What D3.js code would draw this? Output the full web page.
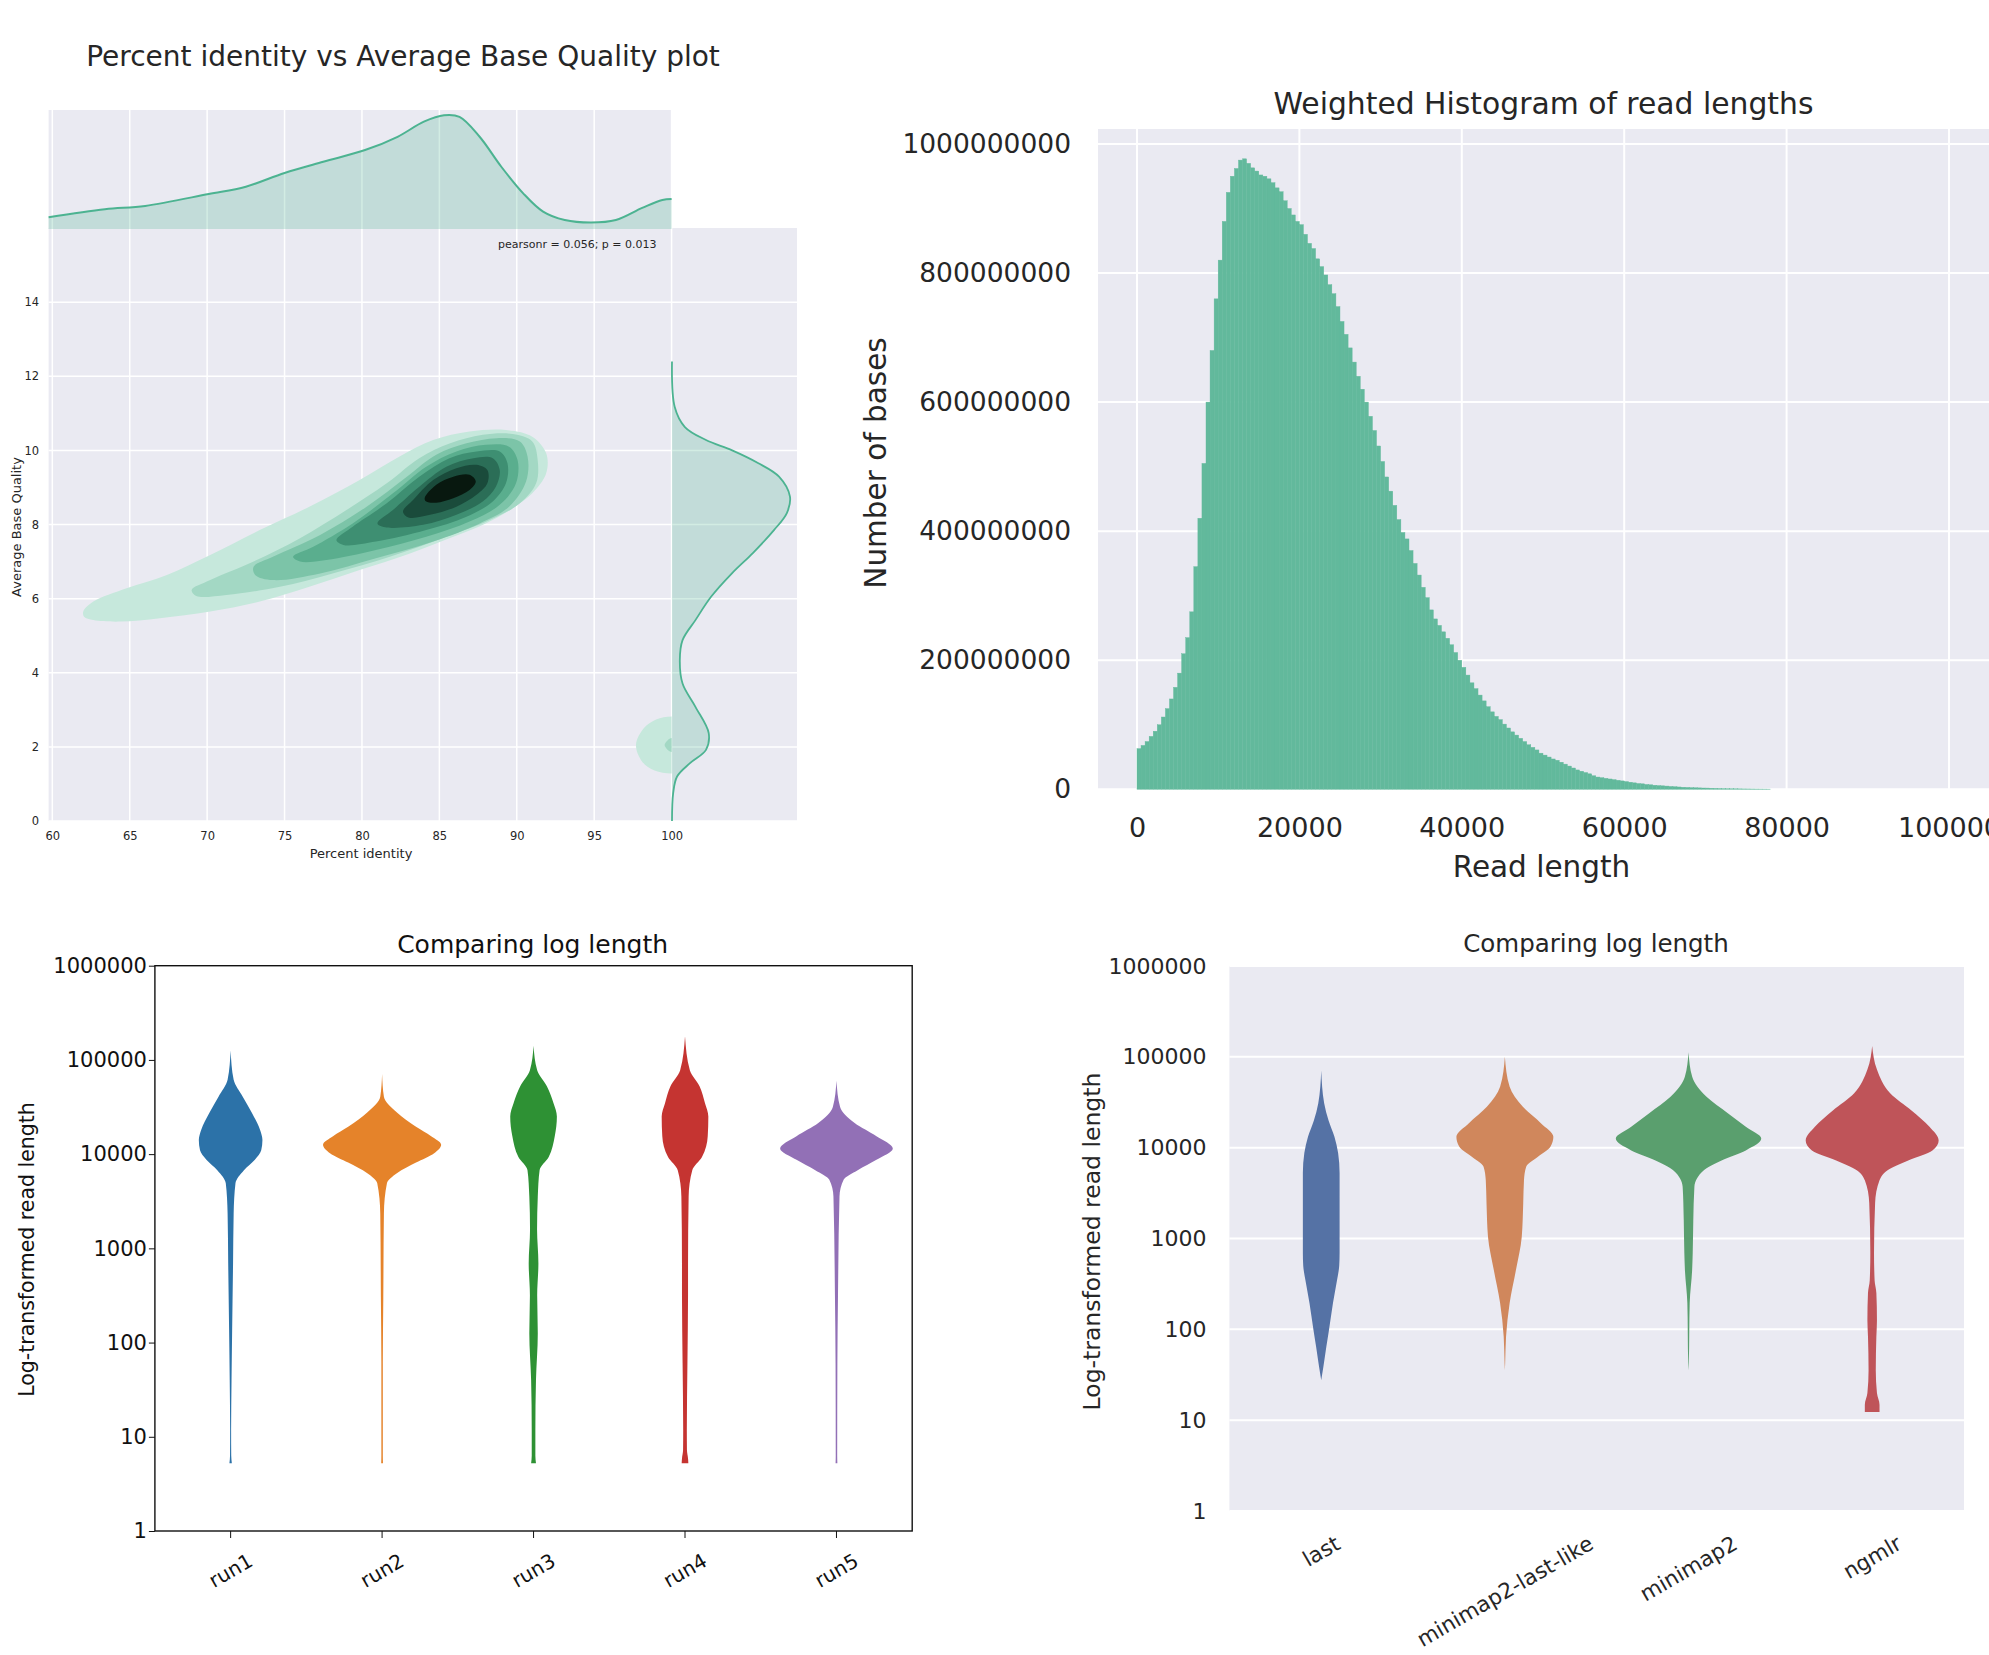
<!DOCTYPE html>
<html>
<head>
<meta charset="utf-8">
<script src="https://cdn.jsdelivr.net/npm/d3@7"></script>
<style>
  body { margin: 0; background: #fff; }
  svg { display: block; font-family: "DejaVu Sans", sans-serif; }
</style>
</head>
<body>
<svg id="chart" width="1989" height="1655"></svg>
<script>
// ---------------- data ----------------
// panel 1: percent identity vs average base quality
var identTicks = [60, 65, 70, 75, 80, 85, 90, 95, 100];
var qualTicks = [0, 2, 4, 6, 8, 10, 12, 14];
var topKdeX = [59.76, 63.4, 66.0, 70.1, 72.5, 75.0, 77.5, 80.2, 82.3, 84.0, 85.3, 86.3, 87.6, 89.0, 90.4, 91.7, 93.1, 94.8, 96.4, 98.1, 99.4, 100.0];
var topKdeD = [0.0051, 0.0086, 0.0101, 0.0153, 0.0185, 0.0245, 0.0294, 0.0345, 0.0403, 0.0469, 0.0497, 0.0490, 0.0403, 0.0272, 0.0157, 0.0076, 0.0039, 0.0028, 0.0039, 0.0092, 0.0127, 0.0131];
var rightKdeQ = [0, 0.75, 1.2, 1.56, 1.92, 2.37, 3.08, 3.71, 4.34, 4.88, 5.42, 6.05, 6.69, 7.23, 7.85, 8.31, 8.75, 9.29, 9.66, 10.0, 10.28, 10.63, 11.17, 12.4];
var rightKdeD = [0, 0.003, 0.013, 0.046, 0.087, 0.094, 0.060, 0.027, 0.020, 0.027, 0.060, 0.100, 0.154, 0.207, 0.261, 0.294, 0.302, 0.274, 0.220, 0.154, 0.087, 0.033, 0.007, 0];

// 2d kde contour outlines (percent identity, base quality), light to dark
var contour1 = [[62.0,5.65],[62.65,5.92],[64.8,6.28],[67.4,6.64],[70.2,7.18],[73.4,7.85],[76.6,8.48],[79.85,9.2],[82.4,9.83],[84.6,10.28],[86.95,10.51],[89.3,10.55],[91.0,10.37],[91.9,9.92],[91.9,9.38],[91.0,8.84],[89.75,8.44],[88.0,8.03],[85.9,7.67],[83.1,7.22],[79.85,6.77],[76.6,6.32],[73.4,5.92],[70.2,5.65],[66.95,5.47],[64.4,5.38],[62.65,5.42],[62.05,5.51]];
var contour2 = [[69.0,6.23],[70.2,6.5],[73.0,7.0],[76.0,7.63],[79.0,8.39],[81.6,9.11],[83.7,9.79],[85.7,10.19],[87.8,10.42],[89.75,10.44],[91.0,10.24],[91.35,9.74],[91.25,9.11],[90.2,8.57],[88.25,8.12],[85.2,7.63],[81.8,7.13],[78.1,6.68],[74.7,6.32],[71.25,6.1],[69.3,6.07]];
var contour3 = [[73.0,6.86],[74.25,7.13],[77.3,7.72],[80.3,8.48],[82.9,9.29],[84.8,9.88],[86.75,10.19],[88.7,10.33],[90.2,10.24],[90.7,9.83],[90.6,9.16],[89.5,8.48],[87.6,8.03],[84.6,7.54],[80.9,7.09],[77.3,6.68],[74.25,6.5],[73.1,6.64]];
var contour4 = [[75.55,7.13],[76.85,7.4],[79.4,8.03],[82.0,8.84],[84.15,9.56],[86.1,9.97],[88.0,10.15],[89.5,10.1],[90.05,9.74],[89.95,9.11],[88.9,8.53],[86.95,8.08],[84.15,7.67],[80.9,7.31],[77.7,7.04],[76.0,7.0]];
var contour5 = [[78.35,7.58],[79.4,7.94],[81.6,8.57],[83.7,9.29],[85.65,9.79],[87.4,9.97],[88.9,9.97],[89.4,9.65],[89.3,9.11],[88.45,8.62],[86.75,8.21],[84.15,7.85],[80.9,7.54],[78.8,7.45]];
var contour6 = [[81.0,8.03],[82.0,8.39],[83.7,9.02],[85.45,9.56],[87.2,9.79],[88.45,9.79],[88.9,9.47],[88.65,9.02],[87.8,8.62],[86.1,8.26],[83.95,7.99],[81.6,7.92]];
var contour7 = [[82.65,8.35],[83.3,8.66],[84.6,9.2],[86.1,9.52],[87.4,9.61],[88.1,9.47],[88.1,9.11],[87.4,8.8],[86.1,8.48],[84.4,8.26],[83.0,8.19]];
var contour8 = [[84.05,8.71],[84.8,9.07],[85.9,9.29],[86.95,9.34],[87.35,9.16],[86.95,8.93],[85.9,8.71],[84.8,8.59],[84.15,8.62]];
var blobOuter = [[100,2.82],[99.0,2.74],[98.2,2.5],[97.7,2.05],[98.1,1.6],[98.9,1.36],[100,1.28],[101,1.36],[101.8,1.6],[102.3,2.05],[101.8,2.5],[101,2.74]];
var blobInner = [[100,2.24],[99.55,2.05],[100,1.86],[100.45,2.05]];
var contourColors = ["#c6e8dc", "#a3d8c4", "#7cc4a8", "#5aae8e", "#3e8f72", "#2b6e57", "#1a4b3b", "#08180f"];

// panel 2: weighted histogram, bins of 500 starting at 0, values in millions of bases
var histBinWidth = 500;
var histBasesMillions = [
  63,68,74,82,90,100,112,125,140,158,
  180,210,235,275,345,420,505,600,680,760,
  820,880,925,950,962,975,977,970,963,958,
  952,950,946,940,932,926,912,900,890,880,
  875,860,846,838,822,810,797,782,768,748,
  725,705,684,662,640,620,600,578,556,532,
  508,484,462,440,418,398,388,370,350,332,
  313,297,278,264,254,244,234,224,212,200,
  189,177,165,156,146,137,128,120,113,108,
  101,95,89,84,79,74,69,65,61,56,
  53,50,47,45,42,39,36,33,30,28,
  26,24,21,19,18,17,16,15,14,13,
  12,11,10,9,8.5,7.5,7,6.3,5.8,5.4,
  5,4.4,4,3.6,3.2,2.9,2.6,2.4,2.2,2,
  1.9,1.7,1.5,1.3,1.1,1,0.9,0.8,0.7,0.6,
  0.55,0.5,0.45,0.4,0.35,0.3
];
var histXTicks = [0, 20000, 40000, 60000, 80000, 100000];
var histYTicks = [0, 200, 400, 600, 800, 1000];

// panels 3 and 4: violins, [log10(read length), relative half width]
var logTicks = [1, 10, 100, 1000, 10000, 100000, 1000000];
var runNames = ["run1", "run2", "run3", "run4", "run5"];
var runColors = ["#2c72a8", "#e5832a", "#2e9134", "#c53431", "#9270b6"];
var run1 = [[0.72,0.02],[0.8,0.01],[1.07,0.008],[1.6,0.015],[2.13,0.025],[2.84,0.04],[3.37,0.05],[3.69,0.08],[3.83,0.22],[3.94,0.40],[4.04,0.505],[4.15,0.525],[4.26,0.485],[4.44,0.35],[4.61,0.20],[4.79,0.05],[5.1,0]];
var run2 = [[0.72,0.015],[0.8,0.012],[1.78,0.012],[2.48,0.02],[3.37,0.03],[3.69,0.08],[3.80,0.25],[3.91,0.56],[4.01,0.86],[4.10,0.975],[4.19,0.81],[4.29,0.56],[4.44,0.25],[4.61,0.03],[4.85,0]];
var run3 = [[0.72,0.04],[0.8,0.03],[1.07,0.03],[1.6,0.04],[2.1,0.07],[2.5,0.06],[2.84,0.08],[3.2,0.058],[3.55,0.07],[3.83,0.10],[3.97,0.25],[4.19,0.35],[4.40,0.385],[4.54,0.33],[4.72,0.22],[4.89,0.06],[5.15,0]];
var run4 = [[0.72,0.055],[0.77,0.05],[0.86,0.032],[1.07,0.03],[1.78,0.04],[2.5,0.05],[2.84,0.05],[3.55,0.06],[3.83,0.12],[3.97,0.28],[4.19,0.375],[4.40,0.385],[4.54,0.33],[4.72,0.24],[4.89,0.08],[5.25,0]];
var run5 = [[0.72,0.015],[0.8,0.012],[1.78,0.015],[2.49,0.025],[3.55,0.05],[3.73,0.12],[3.83,0.35],[3.94,0.66],[4.06,0.93],[4.19,0.66],[4.33,0.30],[4.50,0.06],[4.78,0]];
var alignerNames = ["last", "minimap2-last-like", "minimap2", "ngmlr"];
var alignerColors = ["#5572a5", "#d0875c", "#5a9f6e", "#bf5459"];
var alnLast = [[1.44,0],[1.59,0.03],[1.81,0.07],[1.99,0.105],[2.29,0.16],[2.54,0.215],[2.7,0.245],[2.84,0.25],[3.20,0.25],[3.72,0.25],[3.94,0.23],[4.12,0.18],[4.30,0.10],[4.49,0.04],[4.85,0]];
var alnMm2LastLike = [[1.55,0],[1.63,0.004],[1.92,0.016],[2.29,0.065],[2.65,0.15],[3.02,0.23],[3.39,0.25],[3.64,0.26],[3.79,0.29],[3.90,0.45],[4.01,0.62],[4.12,0.66],[4.27,0.49],[4.45,0.245],[4.67,0.065],[5.0,0]];
var alnMm2 = [[1.55,0],[1.63,0.004],[2.29,0.016],[2.65,0.049],[2.84,0.057],[3.20,0.065],[3.57,0.08],[3.75,0.205],[3.86,0.45],[3.97,0.78],[4.10,0.99],[4.23,0.78],[4.38,0.535],[4.56,0.245],[4.78,0.05],[5.05,0]];
var alnNgmlr = [[1.09,0.10],[1.17,0.10],[1.30,0.065],[1.55,0.049],[1.92,0.057],[2.10,0.065],[2.40,0.057],[2.54,0.033],[2.84,0.025],[3.39,0.04],[3.64,0.10],[3.75,0.205],[3.86,0.49],[3.97,0.82],[4.08,0.905],[4.23,0.78],[4.41,0.535],[4.60,0.245],[4.86,0.065],[5.12,0]];

// ---------------- drawing ----------------
var svg = d3.select("#chart");
var font = "DejaVu Sans";
var darkText = "#262626";
var bgGrey = "#eaeaf2";

function styleAxis(g, size, color) {
  g.attr("font-family", font).attr("font-size", size);
  g.selectAll("text").attr("fill", color);
  g.selectAll("line").attr("stroke", color);
}

function addText(g, x, y, txt, size, anchor, color) {
  return g.append("text").attr("x", x).attr("y", y).text(txt)
    .attr("font-size", size).attr("text-anchor", anchor || "middle")
    .attr("fill", color || darkText);
}

function addYLabel(g, x, y, txt, size, color) {
  return g.append("text").attr("transform", `translate(${x},${y}) rotate(-90)`)
    .attr("text-anchor", "middle").attr("font-size", size)
    .attr("fill", color || darkText).text(txt);
}

// rotated category labels, box centred under the tick like matplotlib rotation=30
function rotatedLabels(g, scale, names, top, size, color) {
  names.forEach(function(name) {
    var t = g.append("text").text(name).attr("font-size", size).attr("fill", color)
      .attr("text-anchor", "middle").attr("dominant-baseline", "central");
    var len = t.node().getComputedTextLength();
    var a = 30 * Math.PI / 180;
    var h = len * Math.sin(a) + size * 0.8 * Math.cos(a);
    var cx = scale(name) + scale.bandwidth() / 2;
    t.attr("transform", `translate(${cx},${top + h / 2}) rotate(-30)`);
  });
}

function violinArea(cx, widthScale, yScale) {
  return d3.area()
    .y(d => yScale(Math.pow(10, d[0])))
    .x0(d => cx - widthScale(d[1]))
    .x1(d => cx + widthScale(d[1]))
    .curve(d3.curveMonotoneY);
}

// ===== Panel 1: joint kde plot =====
var jointX = d3.scaleLinear().domain([59.76, 108.1]).range([48.6, 797]);
var jointY = d3.scaleLinear().domain([0, 16]).range([821, 228]);
var topY = d3.scaleLinear().domain([0, 0.052]).range([229, 110]);
var rightX = d3.scaleLinear().domain([0, 0.32]).range([672, 797]);

var joint = svg.append("g");
joint.append("rect")
  .attr("x", jointX(59.76)).attr("y", jointY(16))
  .attr("width", jointX(108.1) - jointX(59.76)).attr("height", jointY(0) - jointY(16))
  .attr("fill", bgGrey);
joint.append("rect")
  .attr("x", jointX(59.76)).attr("y", topY(0.052))
  .attr("width", jointX(100) - jointX(59.76)).attr("height", topY(0) - topY(0.052))
  .attr("fill", bgGrey);

joint.selectAll(".vgrid").data(identTicks).enter().append("line")
  .attr("x1", d => jointX(d)).attr("x2", d => jointX(d))
  .attr("y1", topY(0.052)).attr("y2", jointY(0))
  .attr("stroke", "#fff").attr("stroke-width", 1.5);
joint.selectAll(".hgrid").data(qualTicks).enter().append("line")
  .attr("x1", jointX(59.76)).attr("x2", jointX(108.1))
  .attr("y1", d => jointY(d)).attr("y2", d => jointY(d))
  .attr("stroke", "#fff").attr("stroke-width", 1.5);

svg.append("clipPath").attr("id", "kdeClip").append("rect")
  .attr("x", jointX(59.76)).attr("y", jointY(16))
  .attr("width", jointX(100) - jointX(59.76)).attr("height", jointY(0) - jointY(16));

var contourLine = d3.line()
  .x(d => jointX(d[0])).y(d => jointY(d[1]))
  .curve(d3.curveCatmullRomClosed.alpha(0.5));
var kdeG = joint.append("g").attr("clip-path", "url(#kdeClip)");
[contour1, contour2, contour3, contour4, contour5, contour6, contour7, contour8].forEach(function(c, i) {
  kdeG.append("path").attr("d", contourLine(c)).attr("fill", contourColors[i]);
});
kdeG.append("path").attr("d", contourLine(blobOuter)).attr("fill", contourColors[0]);
kdeG.append("path").attr("d", contourLine(blobInner)).attr("fill", contourColors[1]);

// marginal densities
var kdeGreen = "#4CB391";
var topData = topKdeX.map((x, i) => [x, topKdeD[i]]);
joint.append("path")
  .attr("d", d3.area().x(d => jointX(d[0])).y0(topY(0)).y1(d => topY(d[1])).curve(d3.curveCatmullRom)(topData))
  .attr("fill", kdeGreen).attr("fill-opacity", 0.25);
joint.append("path")
  .attr("d", d3.line().x(d => jointX(d[0])).y(d => topY(d[1])).curve(d3.curveCatmullRom)(topData))
  .attr("fill", "none").attr("stroke", kdeGreen).attr("stroke-width", 2);

var rightData = rightKdeQ.map((q, i) => [q, rightKdeD[i]]);
joint.append("path")
  .attr("d", d3.area().y(d => jointY(d[0])).x0(rightX(0)).x1(d => rightX(d[1])).curve(d3.curveCatmullRom)(rightData))
  .attr("fill", kdeGreen).attr("fill-opacity", 0.25);
joint.append("path")
  .attr("d", d3.line().y(d => jointY(d[0])).x(d => rightX(d[1])).curve(d3.curveCatmullRom)(rightData))
  .attr("fill", "none").attr("stroke", kdeGreen).attr("stroke-width", 1.8);

// axes
joint.append("g").attr("transform", `translate(0,${jointY(0)})`)
  .call(d3.axisBottom(jointX).tickValues(identTicks).tickSize(0).tickPadding(11))
  .call(g => g.select(".domain").remove())
  .call(g => styleAxis(g, 11.5, darkText));
joint.append("g").attr("transform", `translate(${jointX(59.76)},0)`)
  .call(d3.axisLeft(jointY).tickValues(qualTicks).tickSize(0).tickPadding(9.5))
  .call(g => g.select(".domain").remove())
  .call(g => styleAxis(g, 11.5, darkText));

addText(joint, 361, 858, "Percent identity", 13);
addYLabel(joint, 21, 527, "Average Base Quality", 13);
addText(joint, 498, 248, "pearsonr = 0.056; p = 0.013", 11, "start");
addText(joint, 403, 66, "Percent identity vs Average Base Quality plot", 28);

// ===== Panel 2: weighted histogram =====
var histX = d3.scaleLinear().domain([-4800, 105000]).range([1098, 1989.6]);
var histY = d3.scaleLinear().domain([0, 1023.2]).range([789.3, 129]);
var hist = svg.append("g");
hist.append("rect")
  .attr("x", histX(-4800)).attr("y", histY(1023.2))
  .attr("width", histX(105000) - histX(-4800)).attr("height", histY(0) - histY(1023.2))
  .attr("fill", bgGrey);
hist.selectAll(".vgrid").data(histXTicks).enter().append("line")
  .attr("x1", d => histX(d)).attr("x2", d => histX(d))
  .attr("y1", histY(1023.2)).attr("y2", histY(0))
  .attr("stroke", "#fff").attr("stroke-width", 2);
hist.selectAll(".hgrid").data(histYTicks).enter().append("line")
  .attr("x1", histX(-4800)).attr("x2", histX(105000))
  .attr("y1", d => histY(d)).attr("y2", d => histY(d))
  .attr("stroke", "#fff").attr("stroke-width", 2);

hist.selectAll(".bar").data(histBasesMillions).enter().append("rect")
  .attr("x", (d, i) => histX(i * histBinWidth))
  .attr("width", (d, i) => histX((i + 1) * histBinWidth) - histX(i * histBinWidth))
  .attr("y", d => histY(d))
  .attr("height", d => histY(0) - histY(d))
  .attr("fill", "#62b99c")
  .attr("stroke", "#62b99c").attr("stroke-width", 0.4);

// the 100000 label runs off the right edge, same as the original figure
hist.append("g").attr("transform", `translate(0,${histY(0)})`)
  .call(d3.axisBottom(histX).tickValues(histXTicks).tickSize(0).tickPadding(28.5).tickFormat(d3.format("d")))
  .call(g => g.select(".domain").remove())
  .call(g => styleAxis(g, 27, darkText));
hist.append("g").attr("transform", `translate(${histX(-4800)},0)`)
  .call(d3.axisLeft(histY).tickValues(histYTicks).tickSize(0).tickPadding(27).tickFormat(d => d3.format("d")(d * 1e6)))
  .call(g => g.select(".domain").remove())
  .call(g => styleAxis(g, 26.5, darkText));

addText(hist, 1541.5, 877, "Read length", 29.5);
addYLabel(hist, 886, 463, "Number of bases", 29.5);
addText(hist, 1543.5, 113.5, "Weighted Histogram of read lengths", 29.8);

// ===== Panel 3: matplotlib violins =====
var runX = d3.scaleBand().domain(runNames).range([154.9, 912.2]);
var runY = d3.scaleLog().domain([1, 1e6]).range([1531, 965.7]);
var runW = d3.scaleLinear().domain([0, 1]).range([0, runX.bandwidth() * 0.4]);
var runs = svg.append("g");
[run1, run2, run3, run4, run5].forEach(function(prof, i) {
  var cx = runX(runNames[i]) + runX.bandwidth() / 2;
  runs.append("path").attr("d", violinArea(cx, runW, runY)(prof))
    .attr("fill", runColors[i]);
});
runs.append("rect")
  .attr("x", runX.range()[0]).attr("y", runY(1e6))
  .attr("width", runX.range()[1] - runX.range()[0]).attr("height", runY(1) - runY(1e6))
  .attr("fill", "none").attr("stroke", "#111").attr("stroke-width", 1.4);
runs.append("g").attr("transform", `translate(${runX.range()[0]},0)`)
  .call(d3.axisLeft(runY).tickValues(logTicks).tickFormat(d3.format("d")).tickSize(6).tickPadding(2))
  .call(g => g.select(".domain").remove())
  .call(g => styleAxis(g, 21, "#111"));
runs.append("g").attr("transform", `translate(0,${runY(1)})`)
  .call(d3.axisBottom(runX).tickSize(7).tickFormat(""))
  .call(g => g.select(".domain").remove())
  .call(g => styleAxis(g, 21, "#111"));
rotatedLabels(runs, runX, runNames, 1552, 20, "#111");
addYLabel(runs, 34, 1249.5, "Log-transformed read length", 20.5, "#111");
addText(runs, 532.6, 953.3, "Comparing log length", 25, "middle", "#111");

// ===== Panel 4: seaborn violins =====
var alnX = d3.scaleBand().domain(alignerNames).range([1229.4, 1964]);
var alnY = d3.scaleLog().domain([1, 1e6]).range([1511, 966]);
var alnW = d3.scaleLinear().domain([0, 1]).range([0, alnX.bandwidth() * 0.4]);
var aln = svg.append("g");
aln.append("rect")
  .attr("x", alnX.range()[0]).attr("y", alnY(1e6))
  .attr("width", alnX.range()[1] - alnX.range()[0]).attr("height", alnY(1) - alnY(1e6))
  .attr("fill", bgGrey);
aln.selectAll(".hgrid").data(logTicks).enter().append("line")
  .attr("x1", alnX.range()[0]).attr("x2", alnX.range()[1])
  .attr("y1", d => alnY(d)).attr("y2", d => alnY(d))
  .attr("stroke", "#fff").attr("stroke-width", 2);
[alnLast, alnMm2LastLike, alnMm2, alnNgmlr].forEach(function(prof, i) {
  var cx = alnX(alignerNames[i]) + alnX.bandwidth() / 2;
  aln.append("path").attr("d", violinArea(cx, alnW, alnY)(prof))
    .attr("fill", alignerColors[i]);
});
aln.append("g").attr("transform", `translate(${alnX.range()[0]},0)`)
  .call(d3.axisLeft(alnY).tickValues(logTicks).tickFormat(d3.format("d")).tickSize(0).tickPadding(23))
  .call(g => g.select(".domain").remove())
  .call(g => styleAxis(g, 22, darkText));
rotatedLabels(aln, alnX, alignerNames, 1534, 21.5, darkText);
addYLabel(aln, 1100, 1241.5, "Log-transformed read length", 23.5);
addText(aln, 1596, 952.3, "Comparing log length", 24.5);
</script>
</body>
</html>
